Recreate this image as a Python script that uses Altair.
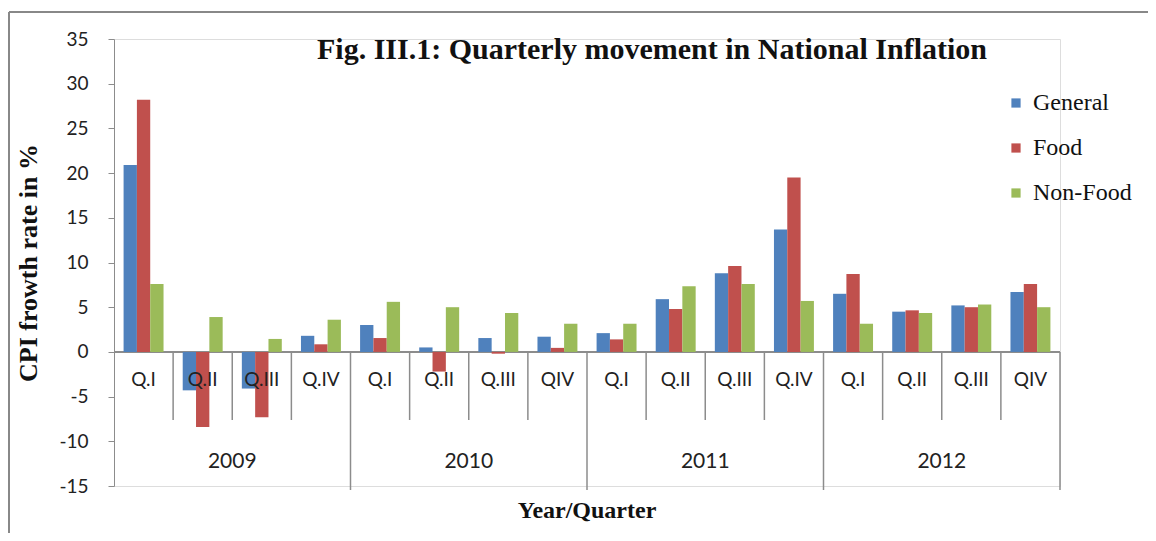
import altair as alt
import pandas as pd

years = ["2009", "2010", "2011", "2012"]
quarter_labels = ["Q.I", "Q.II", "Q.III", "Q.IV",
                  "Q.I", "Q.II", "Q.III", "QIV",
                  "Q.I", "Q.II", "Q.III", "Q.IV",
                  "Q.I", "Q.II", "Q.III", "QIV"]
series = ["General", "Food", "Non-Food"]
general = [20.9, -4.3, -4.1, 1.8, 3.0, 0.5, 1.55, 1.7, 2.1, 5.9, 8.8, 13.7, 6.5, 4.5, 5.2, 6.7]
food = [28.2, -8.4, -7.3, 0.85, 1.55, -2.2, -0.2, 0.45, 1.4, 4.8, 9.6, 19.5, 8.7, 4.65, 5.0, 7.6]
nonfood = [7.6, 3.9, 1.45, 3.6, 5.6, 5.0, 4.35, 3.15, 3.15, 7.35, 7.6, 5.7, 3.15, 4.35, 5.3, 5.0]
colors = ["#4F81BD", "#C0504D", "#9BBB59"]
y_ticks = [-15, -10, -5, 0, 5, 10, 15, 20, 25, 30, 35]

cats = []
cat_rows = []
for yi, yr in enumerate(years):
    for qi in range(4):
        key = f"{yr}-{qi}"
        cats.append(key)
        cat_rows.append({"cat": key, "label": quarter_labels[yi * 4 + qi],
                         "year": yr, "qi": qi})
cat_df = pd.DataFrame(cat_rows)

rows = []
for i, c in enumerate(cats):
    for s, vals in zip(series, [general, food, nonfood]):
        rows.append({"cat": c, "series": s, "value": vals[i]})
bar_df = pd.DataFrame(rows)

W, H = 946, 447
GRAY = "#8c8c8c"
xscale = alt.Scale(domain=cats, paddingInner=0, paddingOuter=0)
yscale = alt.Scale(domain=[-15, 35], nice=False)

bars = alt.Chart(bar_df).mark_bar().encode(
    x=alt.X("cat:N", scale=xscale, axis=None),
    xOffset=alt.XOffset("series:N", scale=alt.Scale(domain=series, paddingInner=0, paddingOuter=0.72)),
    y=alt.Y("value:Q", scale=yscale,
            axis=alt.Axis(values=y_ticks, grid=False, domainColor=GRAY, tickColor=GRAY,
                          tickSize=6, labelPadding=20, labelFont="Lato", labelFontSize=19,
                          labelExpr="datum.value + ''",
                          labelColor="#222", title="CPI frowth rate in %",
                          titleFont="Liberation Serif", titleFontSize=26, titleFontWeight="bold",
                          titleColor="#111", titleAngle=-90, titleX=-86, titleY=H / 2,
                          titleAlign="center", titleBaseline="middle")),
    color=alt.Color("series:N", scale=alt.Scale(domain=series, range=colors),
                    legend=alt.Legend(orient="none", legendX=890, legendY=52, title=None,
                                      symbolType="square", symbolSize=85, symbolStrokeWidth=0,
                                      labelFont="Liberation Serif", labelFontSize=24,
                                      labelColor="#111", rowPadding=21, padding=0,
                                      labelOffset=5)),
)

zero_line = alt.Chart(cat_df).mark_rule(color=GRAY, strokeWidth=1.5).encode(
    y=alt.datum(0, scale=yscale), x=alt.value(0), x2=alt.value(W)
)

short_sep = alt.Chart(cat_df).transform_filter("datum.qi < 3").mark_rule(color=GRAY, strokeWidth=1.5).encode(
    x=alt.X("cat:N", scale=xscale, axis=None, bandPosition=1),
    y=alt.datum(0, scale=yscale), y2=alt.value(381)
)
long_sep = alt.Chart(cat_df).transform_filter("datum.qi == 3").mark_rule(color=GRAY, strokeWidth=1.5).encode(
    x=alt.X("cat:N", scale=xscale, axis=None, bandPosition=1),
    y=alt.datum(0, scale=yscale), y2=alt.value(451)
)

q_text = alt.Chart(cat_df).mark_text(font="Lato", fontSize=19, color="#222", baseline="middle").encode(
    x=alt.X("cat:N", scale=xscale, axis=None), y=alt.value(341), text="label:N"
)
year_text = alt.Chart(cat_df).transform_filter("datum.qi == 2").mark_text(
    font="Lato", fontSize=21, color="#222", baseline="middle").encode(
    x=alt.X("cat:N", scale=xscale, axis=None, bandPosition=0), y=alt.value(423), text="year:N"
)

title_df = pd.DataFrame({"t": ["Fig. III.1: Quarterly movement in National Inflation"]})
title = alt.Chart(title_df).mark_text(font="Liberation Serif", fontSize=30, fontWeight="bold",
                                      color="#111", baseline="middle").encode(
    x=alt.value(538), y=alt.value(11), text="t:N"
)
xt_df = pd.DataFrame({"t": ["Year/Quarter"]})
xtitle = alt.Chart(xt_df).mark_text(font="Liberation Serif", fontSize=24, fontWeight="bold",
                                    color="#111", baseline="middle").encode(
    x=alt.value(W / 2), y=alt.value(472), text="t:N"
)

border_left = alt.Chart(xt_df).mark_rule(color="#888", strokeWidth=2).encode(
    x=alt.value(-105), y=alt.value(-27), y2=alt.value(500)
)
border_top = alt.Chart(xt_df).mark_rule(color="#888", strokeWidth=2).encode(
    x=alt.value(-105), x2=alt.value(1040), y=alt.value(-27)
)

chart = alt.layer(border_left, border_top, zero_line, bars, short_sep, long_sep,
                  q_text, year_text, title, xtitle).properties(
    width=W, height=H,
    padding={"left": 106, "top": 31, "right": 88, "bottom": 47},
    autosize=alt.AutoSizeParams(type="none"),
).configure_view(stroke=None).configure(background="white")

chart.save("out.html", embed_options={"renderer": "svg", "actions": False})
